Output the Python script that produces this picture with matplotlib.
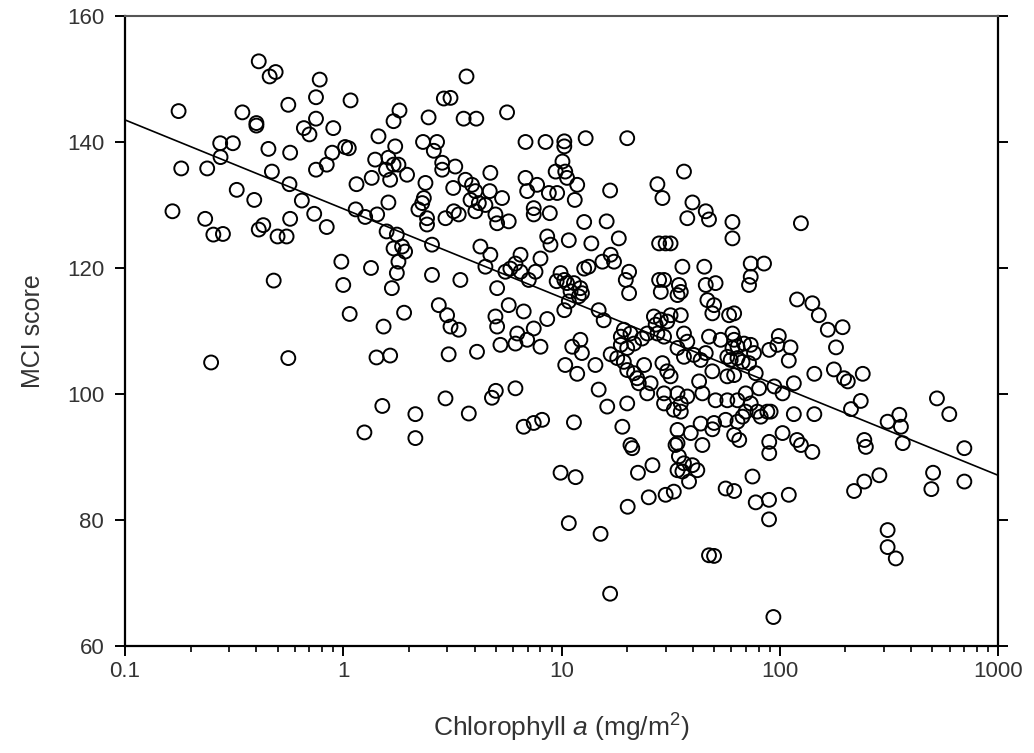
import numpy as np
import matplotlib
matplotlib.use("Agg")
import matplotlib.pyplot as plt
from matplotlib.ticker import LogLocator, NullFormatter

# -----------------------------
# Data
# -----------------------------
chl = [
    # upper left block
    0.41, 0.46, 0.49, 0.78, 0.75, 0.56, 1.08, 0.176, 0.345, 0.40, 0.40, 0.75, 0.66, 0.70, 0.90,
    1.81, 1.70, 1.45, 1.73, 0.273, 0.312, 0.274, 0.454, 0.571, 1.02, 1.06, 0.89, 0.84, 0.75,
    0.181, 0.238, 0.471, 0.567, 0.325, 0.391, 0.646, 0.736, 0.571, 0.84, 0.165, 0.233, 0.254,
    0.281, 0.41, 0.43, 0.50, 0.55, 1.15, 1.35, 1.40, 1.61, 1.70, 1.79, 1.57, 1.64, 1.96, 1.61,
    1.14, 1.26, 1.43, 1.58, 1.76,
    # upper middle block
    3.67, 2.89, 3.10, 2.46, 3.56, 4.07, 5.63, 2.32, 2.69, 2.60, 2.84, 2.84, 3.26, 2.38, 2.34,
    2.30, 2.21, 2.42, 2.42, 3.19, 3.63, 3.89, 4.03, 3.83, 4.18, 4.03, 4.72, 4.69, 5.34, 4.48,
    2.94, 3.21, 3.38, 4.98, 5.07, 5.73, 6.84, 8.45, 10.3, 10.3, 12.9, 20.0, 10.1, 9.4, 10.4,
    10.6, 6.84, 6.96, 7.73, 8.75, 9.55, 11.8, 11.5, 7.46, 7.46, 8.84, 12.7, 16.1, 16.7, 27.5,
    29.0, 36.4, 39.8, 37.7, 45.8, 47.4, 60.7, 125,
    # middle left block
    0.98, 1.34, 0.48, 1.0, 1.70, 1.86, 1.92, 1.79, 1.76, 1.67, 1.07, 1.53, 1.90, 0.248, 0.56,
    1.42, 1.64, 1.51, 1.25,
    # middle block
    2.55, 4.25, 4.72, 4.48, 6.49, 6.15, 5.83, 5.53, 6.49, 7.60, 7.08, 8.01, 8.6, 8.9, 10.8,
    13.7, 18.3, 28.0, 30.0, 31.6, 13.3, 12.7, 15.4, 16.8, 17.4, 9.9, 10.3, 9.5, 10.6, 11.4,
    12.2, 12.4, 12.0, 11.0, 20.4, 19.7, 20.4, 28.0, 29.5, 34.5, 35.2, 34.0, 28.5, 35.8, 45.1,
    45.8, 46.6, 2.55, 3.44, 5.07, 2.74, 2.99, 3.10, 3.38, 3.04, 4.10, 5.73, 6.71, 4.98, 5.07,
    8.6, 7.46, 6.27, 6.15, 6.96, 5.25, 8.01, 10.3, 10.8, 14.8, 15.6, 12.2, 11.2, 12.4, 10.4,
    11.8, 14.3, 14.8, 16.2, 16.8, 18.7, 19.3, 20.7, 21.5, 18.7, 20.0, 23.4, 24.7, 18.0, 19.3,
    20.0, 21.5, 22.2, 22.6, 23.9, 20.0, 19.0, 20.7, 24.7, 26.5, 28.5, 30.5, 27.0, 27.5, 29.5,
    31.6, 35.2, 36.4, 37.7, 34.0, 36.4, 40.4, 43.4, 45.8, 29.0, 30.5, 31.6, 25.6, 29.5, 29.5,
    34.0, 35.2, 37.7, 42.7, 44.2, 32.7, 35.2, 34.0, 39.1, 43.4, 34.0, 44.2, 2.94, 3.76, 2.14,
    2.14, 4.8, 5.0, 6.15, 6.71, 7.46, 8.15, 11.4,
    # middle right block
    60.7, 50.8, 73.6, 84.7, 73.6, 72.3, 50.0, 49.1, 58.6, 61.8, 120, 141, 151, 166, 194, 181,
    144, 177, 197, 205, 240, 99, 112, 110, 97.5, 116, 89.5, 103, 94.4, 90.8, 116, 144, 235,
    212, 312, 353, 359, 525, 598, 701, 366, 244, 248, 103, 89.5, 120, 125,
    47.4, 53.6, 60.7, 61.8, 60.7, 64.0, 68.6, 73.6, 76.2, 57.5, 59.6, 64.0, 67.5, 72.3, 49.1,
    57.5, 61.8, 77.6, 80.4, 50.8, 57.5, 64.0, 69.8, 73.6, 78.9, 87.7, 50.0, 56.5, 64.0, 67.5,
    81.8, 69.8, 61.8, 65.2, 49.1,
    # lower middle block
    9.9, 11.6, 10.8, 15.1, 16.7, 20.1, 21.1, 22.4, 26.1, 25.1, 30.0, 32.7, 33.3, 34.5, 36.4,
    39.8, 41.9, 34.0, 38.4, 35.8, 47.4,
    # lower right block
    89.5, 141, 56.5, 61.8, 75, 77.6, 89.3, 89.3, 110, 50.0, 93.5, 219, 244, 286, 312, 312,
    340, 504, 495, 701,
]

mci = [
    152.8, 150.4, 151.1, 149.9, 147.1, 145.9, 146.6, 144.9, 144.7, 143.0, 142.6, 143.7, 142.2,
    141.2, 142.2, 145.0, 143.3, 140.9, 139.3, 139.8, 139.8, 137.6, 138.9, 138.3, 139.2, 139.0,
    138.3, 136.4, 135.6, 135.8, 135.8, 135.3, 133.3, 132.4, 130.8, 130.7, 128.6, 127.8, 126.5,
    129.0, 127.8, 125.3, 125.4, 126.1, 126.8, 125.0, 125.0, 133.3, 134.3, 137.2, 137.5, 136.4,
    136.4, 135.6, 134.0, 134.8, 130.4, 129.3, 128.1, 128.5, 125.8, 125.3,
    150.4, 146.9, 147.0, 143.9, 143.7, 143.7, 144.7, 140.0, 140.0, 138.6, 136.7, 135.6, 136.1,
    133.5, 131.1, 130.3, 129.3, 127.9, 126.9, 132.7, 134.0, 133.2, 132.2, 130.8, 130.3, 129.0,
    135.1, 132.2, 131.1, 130.0, 127.9, 129.0, 128.5, 128.5, 127.1, 127.4, 140.0, 140.0, 140.1,
    139.3, 140.6, 140.6, 136.9, 135.3, 135.3, 134.3, 134.3, 132.2, 133.2, 131.9, 131.9, 133.2,
    130.8, 129.5, 128.5, 128.7, 127.3, 127.4, 132.3, 133.3, 131.1, 135.3, 130.4, 127.9, 129.0,
    127.7, 127.3, 127.1,
    121.0, 120.0, 118.0, 117.3, 123.1, 123.4, 122.6, 121.0, 119.2, 116.8, 112.7, 110.7, 112.9,
    105.0, 105.7, 105.8, 106.1, 98.1, 93.9,
    123.7, 123.4, 122.1, 120.2, 122.1, 120.7, 119.9, 119.4, 119.4, 119.4, 118.1, 121.5, 125.0,
    123.7, 124.4, 123.9, 124.7, 123.9, 123.9, 123.9, 120.2, 119.9, 121.0, 122.1, 121.0, 119.2,
    118.1, 117.9, 117.6, 117.6, 116.8, 116.0, 115.5, 116.3, 119.4, 118.1, 116.0, 118.1, 118.1,
    117.3, 116.2, 115.7, 116.2, 120.2, 120.2, 117.3, 114.9, 118.9, 118.1, 116.8, 114.1, 112.5,
    110.7, 110.2, 106.3, 106.7, 114.1, 113.1, 112.3, 110.7, 111.9, 110.4, 109.6, 108.0, 108.6,
    107.8, 107.5, 113.3, 114.7, 113.3, 111.7, 108.6, 107.5, 106.5, 104.6, 103.2, 104.6, 100.7,
    98.0, 106.3, 109.1, 110.2, 109.6, 108.0, 107.8, 107.3, 108.8, 109.6, 105.7, 105.1, 103.8,
    103.3, 102.5, 101.7, 104.6, 98.5, 94.8, 91.9, 100.1, 112.3, 111.8, 111.5, 111.0, 109.6,
    109.1, 112.5, 112.5, 109.6, 108.3, 107.3, 105.9, 106.2, 105.4, 106.5, 104.9, 103.6, 102.8,
    101.7, 100.1, 98.5, 100.1, 98.5, 99.6, 102.0, 100.1, 97.5, 97.2, 94.3, 93.8, 95.3, 92.2,
    91.9, 99.3, 96.9, 96.8, 93.0, 99.4, 100.5, 100.9, 94.8, 95.4, 95.9, 95.5,
    124.7, 117.6, 120.7, 120.7, 118.6, 117.3, 114.1, 112.8, 112.5, 112.8, 115.0, 114.4, 112.5,
    110.2, 110.6, 107.4, 103.2, 103.9, 102.5, 102.0, 103.2, 109.2, 107.4, 105.3, 107.8, 101.7,
    107.0, 100.1, 101.2, 97.2, 96.8, 96.8, 98.9, 97.6, 95.6, 96.7, 94.8, 99.3, 96.8, 91.4,
    92.2, 92.7, 91.6, 93.8, 92.4, 92.7, 91.9,
    109.1, 108.6, 109.6, 108.6, 107.3, 107.5, 108.0, 107.8, 106.5, 105.9, 105.4, 105.7, 105.1,
    104.9, 103.6, 102.8, 103.0, 103.3, 100.9, 99.0, 99.0, 99.0, 100.1, 98.5, 97.2, 97.2, 95.4,
    95.9, 95.6, 96.4, 96.4, 97.2, 93.5, 92.7, 94.4,
    87.5, 86.8, 79.5, 77.8, 68.3, 82.1, 91.4, 87.5, 88.7, 83.6, 84.0, 84.5, 91.9, 90.1, 89.0,
    88.7, 87.9, 87.9, 86.1, 87.7, 74.4,
    90.6, 90.8, 85.0, 84.6, 86.9, 82.8, 83.2, 80.1, 84.0, 74.3, 64.6, 84.6, 86.1, 87.1, 78.4,
    75.7, 73.9, 87.5, 84.9, 86.1,
]

# regression line end points
fit_x = [0.1, 1000]
fit_y = [143.5, 87.1]

x_ticks = [0.1, 1, 10, 100, 1000]
x_tick_labels = ["0.1", "1", "10", "100", "1000"]
y_ticks = [60, 80, 100, 120, 140, 160]

# -----------------------------
# Fonts
# -----------------------------
plt.rcParams.update({
    "font.family": ["Liberation Sans", "DejaVu Sans"],
    "mathtext.fontset": "custom",
    "mathtext.rm": "Liberation Sans",
    "mathtext.it": "Liberation Sans:italic",
})

fig = plt.figure(figsize=(10.34, 7.53), dpi=100)
ax = fig.add_axes([0.1209, 0.1421, 0.8443, 0.8367])

ax.scatter(chl, mci, s=100, facecolors="none", edgecolors="black", linewidths=1.4, zorder=3)
ax.plot(fit_x, fit_y, color="black", lw=1.2, zorder=2)

ax.set_xscale("log")
ax.set_xlim(0.1, 1000)
ax.set_ylim(60, 160)
ax.set_xticks(x_ticks)
ax.set_xticklabels(x_tick_labels)
ax.xaxis.set_minor_locator(LogLocator(base=10, subs=np.arange(2, 10)))
ax.xaxis.set_minor_formatter(NullFormatter())
ax.set_yticks(y_ticks)

ax.tick_params(axis="both", which="major", labelsize=16, length=7, width=1.4,
               direction="out", colors="black", labelcolor="#333333")
ax.tick_params(axis="y", which="major", pad=8)
ax.tick_params(axis="x", which="minor", length=4, width=1.2, direction="out")
ax.tick_params(axis="y", which="both", right=True)
ax.tick_params(axis="x", which="both", top=False)

for side in ["left", "right", "bottom"]:
    ax.spines[side].set_linewidth(1.6)
ax.spines["top"].set_linewidth(1.5)
ax.spines["top"].set_color("#555555")

ax.set_ylabel("MCI score", fontsize=18, color="#333333", labelpad=16)
ax.set_xlabel("Chlorophyll $\\it{a}$ (mg/m$^2$)", fontsize=19, color="#333333", labelpad=22)

fig.savefig("out.png", dpi=100)
